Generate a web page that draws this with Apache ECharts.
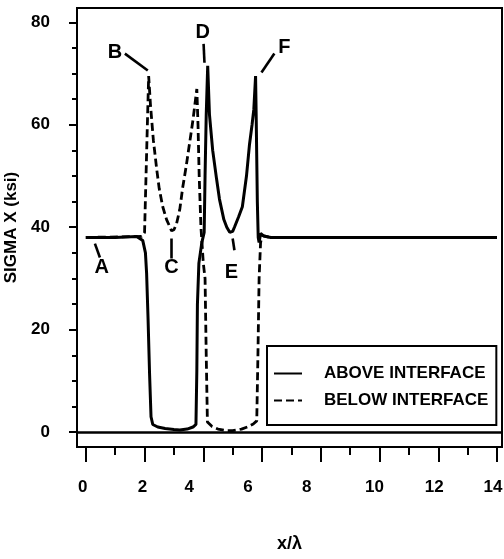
<!DOCTYPE html>
<html>
<head>
<meta charset="utf-8">
<script src="https://cdn.jsdelivr.net/npm/echarts@6/dist/echarts.min.js"></script>
<style>
html,body{margin:0;padding:0;background:#fff;}
#chart{width:504px;height:559px;}
</style>
</head>
<body>
<div id="chart"></div>
<script>
// ABOVE INTERFACE (solid)
var aboveX = [0, 1.0, 1.73, 1.94, 2.03, 2.07, 2.12, 2.17, 2.22, 2.28, 2.45, 2.7, 3.0, 3.2, 3.45, 3.65, 3.75, 3.78, 3.8, 3.85, 3.95, 4.03, 4.06, 4.1, 4.15, 4.21, 4.32, 4.45, 4.55, 4.7, 4.8, 4.9, 5.0, 5.06, 5.2, 5.33, 5.47, 5.57, 5.66, 5.72, 5.78, 5.8, 5.84, 5.87, 5.9, 5.95, 6.05, 6.3, 8, 10, 12, 14];
var aboveY = [38, 38, 38.2, 37.4, 35, 31, 22, 11.5, 3, 1.5, 1.0, 0.7, 0.5, 0.4, 0.6, 1.0, 1.5, 12, 25, 33, 37, 39, 50, 62, 71.5, 62, 55, 49.5, 45.5, 41.5, 40, 39, 39.2, 40, 42, 44, 50, 56, 60, 63, 69.5, 62, 45, 38, 37, 38.8, 38.3, 38, 38, 38, 38, 38];
// BELOW INTERFACE (dashed)
var belowX = [0, 1.9, 2.0, 2.05, 2.1, 2.14, 2.2, 2.3, 2.41, 2.5, 2.62, 2.75, 2.92, 3.0, 3.09, 3.2, 3.3, 3.42, 3.53, 3.65, 3.78, 3.82, 3.86, 3.92, 4.0, 4.06, 4.1, 4.14, 4.3, 4.5, 4.8, 5.0, 5.3, 5.5, 5.7, 5.82, 5.86, 5.9, 5.95, 6.0, 6.3, 14];
var belowY = [38, 38.2, 39, 50, 61, 69.5, 64, 57, 51.5, 47.5, 44, 41.5, 39.3, 39.5, 40.7, 43.5, 47.8, 52, 56.3, 61, 67, 60, 50, 40, 33, 30, 15, 2, 1.1, 0.6, 0.3, 0.3, 0.6, 1.0, 1.6, 2.2, 15, 30, 37, 38.4, 38, 38];
// tick values and labels
var xMajorTicks = [0, 2, 4, 6, 8, 10, 12, 14];
var xMinorTicks = [1, 3, 5, 7, 9, 11, 13];
var yMajorTicks = [0, 20, 40, 60, 80];
var yMinorTicks = [5, 10, 15, 25, 30, 35, 45, 50, 55, 65, 70, 75];
// annotations: letter, text position, pointer segment
var annoNames = ['A', 'B', 'C', 'D', 'E', 'F'];
var annoText = [[0.54, 32.2], [0.99, 74.1], [2.92, 32.2], [3.98, 78.0], [4.96, 31.2], [6.76, 75.0]];
var annoFrom = [[0.31, 36.8], [1.33, 73.9], [2.92, 37.8], [4.01, 75.8], [5.0, 37.8], [5.98, 70.2]];
var annoTo = [[0.48, 34.1], [2.11, 70.6], [2.92, 33.9], [4.04, 72.1], [5.06, 35.5], [6.42, 73.9]];

var FONT = "'Liberation Sans', Arial, sans-serif";

function pairs(xs, ys) { return xs.map(function (x, i) { return [x, ys[i]]; }); }

var annoLines = annoNames.map(function (n, i) {
  return [{ coord: annoFrom[i] }, { coord: annoTo[i] }];
});
annoLines.push([{ coord: [-0.3, 0] }, { coord: [14.17, 0] }]);

// per-label horizontal nudges (as in the scanned original)
var xLabelShift = { 0: 3, 2: 2, 4: 14, 6: 14, 8: 14, 10: 5, 12: 4, 14: 4 };
var xRich = {};
Object.keys(xLabelShift).forEach(function (k) {
  xRich['s' + k] = { padding: [0, xLabelShift[k] * 2, 0, 0], fontFamily: FONT, fontWeight: 'bold', fontSize: 17, color: '#000' };
});

var chart = echarts.init(document.getElementById('chart'), null, { renderer: 'canvas' });
chart.setOption({
  animation: false,
  backgroundColor: '#fff',
  grid: { left: 77, right: 2, top: 8, bottom: 112, show: true, borderColor: '#000', borderWidth: 2, backgroundColor: 'transparent', containLabel: false, outerBoundsMode: 'none' },
  legend: {
    orient: 'vertical', left: 267, top: 346,
    data: ['ABOVE INTERFACE', 'BELOW INTERFACE'],
    itemWidth: 28, itemHeight: 14, itemGap: 10,
    padding: [19, 8, 16, 6],
    borderColor: '#000', borderWidth: 2,
    itemStyle: { opacity: 0 },
    textStyle: { fontFamily: FONT, fontWeight: 'bold', fontSize: 17, color: '#000', padding: [0, 0, 0, 17] }
  },
  xAxis: [{
    type: 'value', min: -0.3, max: 14.17, position: 'bottom',
    name: 'x/λ', nameLocation: 'middle', nameGap: 88,
    nameTextStyle: { fontFamily: FONT, fontWeight: 'bold', fontSize: 18, color: '#000' },
    axisLine: { onZero: false, lineStyle: { color: '#000', width: 2 } },
    axisTick: { show: true, length: 15, lineStyle: { color: '#000', width: 2 }, customValues: xMajorTicks },
    axisLabel: {
      show: true, margin: 32, color: '#000', fontFamily: FONT, fontWeight: 'bold', fontSize: 17, customValues: xMajorTicks,
      formatter: function (v) { return '{s' + v + '|' + v + '}'; }, rich: xRich
    },
    splitLine: { show: false }
  }, {
    type: 'value', min: -0.3, max: 14.17, position: 'bottom',
    axisLine: { show: false, onZero: false },
    axisTick: { show: true, length: 8, lineStyle: { color: '#000', width: 2 }, customValues: xMinorTicks },
    axisLabel: { show: false },
    splitLine: { show: false }
  }],
  yAxis: [{
    type: 'value', min: -2.9, max: 82.8, position: 'left',
    name: 'SIGMA X (ksi)', nameLocation: 'middle', nameGap: 48, nameRotate: 90,
    nameTextStyle: { fontFamily: FONT, fontWeight: 'bold', fontSize: 17, color: '#000' },
    axisLine: { onZero: false, lineStyle: { color: '#000', width: 2 } },
    axisTick: { show: true, length: 8, lineStyle: { color: '#000', width: 2 }, customValues: yMajorTicks },
    axisLabel: { show: true, margin: 27, color: '#000', fontFamily: FONT, fontWeight: 'bold', fontSize: 17, customValues: yMajorTicks },
    splitLine: { show: false }
  }, {
    type: 'value', min: -2.9, max: 82.8, position: 'left',
    axisLine: { show: false, onZero: false },
    axisTick: { show: true, length: 5, lineStyle: { color: '#000', width: 2 }, customValues: yMinorTicks },
    axisLabel: { show: false },
    splitLine: { show: false }
  }],
  series: [{
    name: 'BELOW INTERFACE', type: 'line', data: pairs(belowX, belowY),
    showSymbol: false, symbol: 'none', silent: true,
    lineStyle: { color: '#000', width: 2.8, type: [8, 4] },
    itemStyle: { color: '#000' }
  }, {
    name: 'ABOVE INTERFACE', type: 'line', data: pairs(aboveX, aboveY),
    showSymbol: false, symbol: 'none', silent: true,
    lineStyle: { color: '#000', width: 3 },
    itemStyle: { color: '#000' },
    markLine: {
      silent: true, symbol: ['none', 'none'], label: { show: false },
      lineStyle: { color: '#000', width: 2.6, type: 'solid' },
      data: annoLines
    }
  }, {
    name: 'labels', type: 'scatter', symbolSize: 0, silent: true,
    itemStyle: { opacity: 1, color: '#000' },
    data: annoNames.map(function (n, i) { return { name: n, value: annoText[i] }; }),
    label: { show: true, position: 'inside', formatter: '{b}', color: '#000', opacity: 1, textBorderWidth: 0, fontFamily: FONT, fontWeight: 'bold', fontSize: 20 }
  }]
});
</script>
</body>
</html>
